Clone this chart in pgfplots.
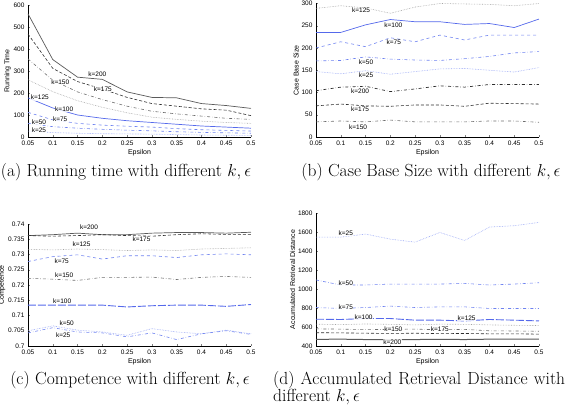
\documentclass[border=0pt]{standalone}
\usepackage{pgfplots}
\pgfplotsset{compat=1.18}
\usepackage{fontspec}
\newfontfamily\hv{Liberation Sans}
\definecolor{bA}{RGB}{85,105,235}
\definecolor{bB}{RGB}{110,130,240}
\definecolor{bC}{RGB}{150,165,245}
\definecolor{gA}{RGB}{90,90,90}
\definecolor{gB}{RGB}{45,45,45}
\definecolor{gC}{RGB}{110,110,110}
\definecolor{gD}{RGB}{165,165,165}
\tikzset{
  s200/.style={gA, line width=0.7pt},
  s175/.style={gB, densely dashed, line width=0.6pt},
  s150/.style={gC, dash dot, line width=0.6pt},
  s125/.style={gD, densely dotted, line width=0.6pt},
  s100/.style={bA, line width=0.7pt},
  s75/.style={bB, dashed, line width=0.6pt},
  s50/.style={bB, dash dot, line width=0.6pt},
  s25/.style={bC, densely dotted, line width=0.6pt},
  lab/.style={font=\hv\fontsize{6.5}{7}\selectfont, inner sep=0.5pt, fill=white, fill opacity=0.8, text opacity=1},
  mycap/.style={font=\fontsize{17.5}{20}\selectfont, inner sep=0pt, anchor=base},
}
\pgfplotsset{
  myax/.style={
    scale only axis, width=223pt,
    axis lines*=left, axis line style={-, line width=0.5pt},
    tick align=inside, major tick length=2pt,
    xmin=0.05, xmax=0.5,
    xtick={0.05,0.1,0.15,0.2,0.25,0.3,0.35,0.4,0.45,0.5},
    xticklabels={0.05,0.1,0.15,0.2,0.25,0.3,0.35,0.4,0.45,0.5},
    tick label style={font=\hv\fontsize{6.5}{7}\selectfont},
    label style={font=\hv\fontsize{7}{8}\selectfont},
    xlabel={Epsilon},
    xlabel style={yshift=3pt},
    ylabel style={yshift=-4pt},
    /pgf/number format/assume math mode=true,
    scaled ticks=false,
    clip=false,
  },
}
\begin{document}
\begin{tikzpicture}
\useasboundingbox (0pt,0pt) rectangle (568pt,407pt);
% ---------------- (a)
\begin{axis}[myax, at={(28pt,270pt)}, anchor=south west, height=132pt,
  ymin=0, ymax=600, ytick={0,100,...,600}, yticklabels={0,100,200,300,400,500,600},
  ylabel={Running Time}]
\addplot[s200] coordinates {(0.05,560)(0.1,352)(0.15,272)(0.2,262)(0.25,205)(0.3,180)(0.35,178)(0.4,152)(0.45,143)(0.5,130)};
\addplot[s175] coordinates {(0.05,468)(0.1,312)(0.15,252)(0.2,218)(0.25,180)(0.3,152)(0.35,140)(0.4,128)(0.45,122)(0.5,97)};
\addplot[s150] coordinates {(0.05,355)(0.1,258)(0.15,205)(0.2,170)(0.25,140)(0.3,117)(0.35,105)(0.4,95)(0.45,85)(0.5,80)};
\addplot[s125] coordinates {(0.05,260)(0.1,206)(0.15,165)(0.2,135)(0.25,110)(0.3,90)(0.35,80)(0.4,72)(0.45,66)(0.5,62)};
\addplot[s100] coordinates {(0.05,178)(0.1,132)(0.15,100)(0.2,85)(0.25,74)(0.3,66)(0.35,58)(0.4,50)(0.45,45)(0.5,40)};
\addplot[s75] coordinates {(0.05,112)(0.1,78)(0.15,62)(0.2,54)(0.25,49)(0.3,45)(0.35,38)(0.4,33)(0.45,30)(0.5,27)};
\addplot[s50] coordinates {(0.05,62)(0.1,47)(0.15,40)(0.2,35)(0.25,31)(0.3,28)(0.35,24)(0.4,21)(0.45,19)(0.5,17)};
\addplot[s25] coordinates {(0.05,27)(0.1,20)(0.15,17)(0.2,15)(0.25,14)(0.3,13)(0.35,11)(0.4,9)(0.45,8)(0.5,7)};
\node[lab] at (axis cs:0.19,286) {k=200};
\node[lab] at (axis cs:0.201,217) {k=175};
\node[lab] at (axis cs:0.115,249) {k=150};
\node[lab] at (axis cs:0.074,179) {k=125};
\node[lab] at (axis cs:0.123,126) {k=100};
\node[lab] at (axis cs:0.115,83) {k=75};
\node[lab] at (axis cs:0.072,68) {k=50};
\node[lab] at (axis cs:0.072,29) {k=25};
\end{axis}
% ---------------- (b)
\begin{axis}[myax, at={(316pt,270pt)}, anchor=south west, height=133.5pt,
  ymin=0, ymax=300, ytick={0,50,...,300}, yticklabels={0,50,100,150,200,250,300},
  ylabel={Case Base Size}]
\addplot[s125] coordinates {(0.05,289)(0.1,295)(0.15,290)(0.2,278)(0.25,292)(0.3,300)(0.35,299)(0.4,298)(0.45,295)(0.5,300)};
\addplot[s100] coordinates {(0.05,235)(0.1,235)(0.15,252)(0.2,264)(0.25,259)(0.3,259)(0.35,253)(0.4,255)(0.45,246)(0.5,265)};
\addplot[s75] coordinates {(0.05,200)(0.1,214)(0.15,203)(0.2,223)(0.25,214)(0.3,229)(0.35,218)(0.4,229)(0.45,229)(0.5,229)};
\addplot[s50] coordinates {(0.05,171)(0.1,172)(0.15,180)(0.2,175)(0.25,173)(0.3,172)(0.35,176)(0.4,181)(0.45,189)(0.5,192)};
\addplot[s25] coordinates {(0.05,147)(0.1,142)(0.15,149)(0.2,141)(0.25,147)(0.3,153)(0.35,154)(0.4,150)(0.45,146)(0.5,156)};
\addplot[gB, dash dot, line width=0.7pt] coordinates {(0.05,104)(0.1,112)(0.15,114)(0.2,102)(0.25,108)(0.3,115)(0.35,112)(0.4,118)(0.45,118)(0.5,118)};
\addplot[s175] coordinates {(0.05,70)(0.1,74)(0.15,70)(0.2,69)(0.25,72)(0.3,72)(0.35,69)(0.4,76)(0.45,75)(0.5,74)};
\addplot[s150] coordinates {(0.05,34)(0.1,36)(0.15,34)(0.2,38)(0.25,34)(0.3,34)(0.35,34)(0.4,36)(0.45,36)(0.5,33)};
\node[lab] at (axis cs:0.141,284) {k=125};
\node[lab] at (axis cs:0.206,252) {k=100};
\node[lab] at (axis cs:0.207,212) {k=75};
\node[lab] at (axis cs:0.151,169) {k=50};
\node[lab] at (axis cs:0.151,139) {k=25};
\node[lab] at (axis cs:0.139,102) {k=200};
\node[lab] at (axis cs:0.139,62) {k=175};
\node[lab] at (axis cs:0.135,23) {k=150};
\end{axis}
% ---------------- (c)
\begin{axis}[myax, at={(28pt,61pt)}, anchor=south west, height=122pt,
  ymin=0.7, ymax=0.74, ytick={0.7,0.705,0.71,0.715,0.72,0.725,0.73,0.735,0.74},
  yticklabels={0.7,0.705,0.71,0.715,0.72,0.725,0.73,0.735,0.74},
  ylabel={Competence}]
\addplot[s200] coordinates {(0.05,0.7362)(0.1,0.7365)(0.15,0.737)(0.2,0.7365)(0.25,0.7365)(0.3,0.737)(0.35,0.7372)(0.4,0.7372)(0.45,0.737)(0.5,0.7373)};
\addplot[s175] coordinates {(0.05,0.7362)(0.1,0.736)(0.15,0.7362)(0.2,0.7365)(0.25,0.7362)(0.3,0.736)(0.35,0.7365)(0.4,0.7368)(0.45,0.7366)(0.5,0.7366)};
\addplot[s125] coordinates {(0.05,0.7317)(0.1,0.7315)(0.15,0.7318)(0.2,0.7316)(0.25,0.7313)(0.3,0.7315)(0.35,0.7313)(0.4,0.7318)(0.45,0.732)(0.5,0.7322)};
\addplot[s75] coordinates {(0.05,0.7277)(0.1,0.7293)(0.15,0.7299)(0.2,0.7285)(0.25,0.7296)(0.3,0.7296)(0.35,0.729)(0.4,0.7299)(0.45,0.7302)(0.5,0.7299)};
\addplot[s150] coordinates {(0.05,0.7222)(0.1,0.7219)(0.15,0.7215)(0.2,0.7225)(0.25,0.7225)(0.3,0.7226)(0.35,0.7218)(0.4,0.7225)(0.45,0.7228)(0.5,0.7225)};
\addplot[bA, dash pattern=on 8pt off 2pt, line width=0.9pt] coordinates {(0.05,0.7134)(0.1,0.7134)(0.15,0.7134)(0.2,0.7134)(0.25,0.7128)(0.3,0.7132)(0.35,0.7134)(0.4,0.7134)(0.45,0.713)(0.5,0.7136)};
\addplot[s25] coordinates {(0.05,0.705)(0.1,0.7066)(0.15,0.7052)(0.2,0.7046)(0.25,0.7035)(0.3,0.7057)(0.35,0.7046)(0.4,0.704)(0.45,0.7052)(0.5,0.704)};
\addplot[s50] coordinates {(0.05,0.7043)(0.1,0.706)(0.15,0.7046)(0.2,0.7043)(0.25,0.703)(0.3,0.7043)(0.35,0.7021)(0.4,0.704)(0.45,0.705)(0.5,0.7038)};
\node[lab] at (axis cs:0.173,0.7389) {k=200};
\node[lab] at (axis cs:0.279,0.7351) {k=175};
\node[lab] at (axis cs:0.158,0.7335) {k=125};
\node[lab] at (axis cs:0.118,0.7279) {k=75};
\node[lab] at (axis cs:0.123,0.7231) {k=150};
\node[lab] at (axis cs:0.119,0.7148) {k=100};
\node[lab] at (axis cs:0.128,0.7076) {k=50};
\node[lab] at (axis cs:0.121,0.7035) {k=25};
\end{axis}
% ---------------- (d)
\begin{axis}[myax, at={(316pt,61pt)}, anchor=south west, height=133pt,
  ymin=400, ymax=1800, ytick={400,600,...,1800}, yticklabels={400,600,800,1000,1200,1400,1600,1800},
  ylabel={Accumulated Retrieval Distance}]
\addplot[s25] coordinates {(0.05,1546)(0.1,1546)(0.15,1578)(0.2,1525)(0.25,1493)(0.3,1595)(0.35,1511)(0.4,1652)(0.45,1666)(0.5,1701)};
\addplot[s50] coordinates {(0.05,1095)(0.1,1042)(0.15,1042)(0.2,1052)(0.25,1052)(0.3,1052)(0.35,1059)(0.4,1042)(0.45,1052)(0.5,1066)};
\addplot[s50] coordinates {(0.05,805)(0.1,795)(0.15,805)(0.2,820)(0.25,805)(0.3,812)(0.35,812)(0.4,795)(0.45,795)(0.5,795)};
\addplot[bA, dash pattern=on 8pt off 2pt, line width=0.9pt] coordinates {(0.05,682)(0.1,679)(0.15,689)(0.2,689)(0.25,672)(0.3,672)(0.35,664)(0.4,679)(0.45,672)(0.5,664)};
\addplot[s125] coordinates {(0.05,630)(0.1,625)(0.15,632)(0.2,628)(0.25,622)(0.3,630)(0.35,628)(0.4,622)(0.45,618)(0.5,615)};
\addplot[s150] coordinates {(0.05,580)(0.1,578)(0.15,572)(0.2,575)(0.25,578)(0.3,570)(0.35,575)(0.4,560)(0.45,558)(0.5,555)};
\addplot[s175] coordinates {(0.05,540)(0.1,538)(0.15,535)(0.2,532)(0.25,535)(0.3,530)(0.35,532)(0.4,528)(0.45,528)(0.5,525)};
\addplot[s200, line width=1pt] coordinates {(0.05,470)(0.1,472)(0.15,468)(0.2,465)(0.25,468)(0.3,470)(0.35,468)(0.4,472)(0.45,472)(0.5,472)};
\node[lab] at (axis cs:0.11,1588) {k=25};
\node[lab] at (axis cs:0.11,1066) {k=50};
\node[lab] at (axis cs:0.11,812) {k=75};
\node[lab] at (axis cs:0.146,700) {k=100};
\node[lab] at (axis cs:0.354,689) {k=125};
\node[lab] at (axis cs:0.206,576) {k=150};
\node[lab] at (axis cs:0.30,573) {k=175};
\node[lab] at (axis cs:0.204,442) {k=200};
\end{axis}
% captions
\node[mycap] at (126pt,230pt) {(a) Running time with different $k,\epsilon$};
\node[mycap] at (431pt,230pt) {(b) Case Base Size with different $k,\epsilon$};
\node[mycap] at (130pt,22pt) {(c) Competence with different $k,\epsilon$};
\node[mycap, anchor=base west] at (273pt,22pt) {\makebox[292pt][s]{(d) Accumulated Retrieval Distance with}};
\node[mycap, anchor=base west] at (273pt,5pt) {different $k,\epsilon$};
\end{tikzpicture}
\end{document}
